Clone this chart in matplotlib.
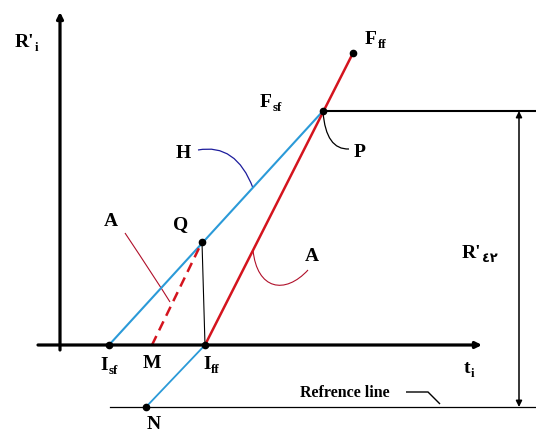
import matplotlib.pyplot as plt
from matplotlib.path import Path
from matplotlib.patches import PathPatch

plt.rcParams['font.family'] = ['Liberation Serif', 'DejaVu Sans']

# construction points (t_i along x, R'_i up), origin where the axes cross
Isf = (49, 0)
M = (92, 0)
Iff = (145, 0)
Q = (142, 103)
N = (86, -62)
P = (263, 234)
Fff = (293, 292)
ref_level = -62
dim_x = 459

BLUE = "#2b9ad8"
RED = "#d4141e"
DARK_RED = "#b0102a"
NAVY = "#1c1c9c"

fig = plt.figure(figsize=(5.36, 4.33), dpi=100)
ax = fig.add_axes([0, 0, 1, 1])
ax.set_xlim(-60, 476)
ax.set_ylim(-88, 345)
ax.axis('off')


def arrow(start, end, lw, both=False):
    style = '<|-|>' if both else '-|>'
    ax.annotate('', xy=end, xytext=start,
                arrowprops=dict(arrowstyle=style, lw=lw, color='k',
                                mutation_scale=9, shrinkA=0, shrinkB=0))


def label(x, y, main, sub=None, size=14):
    t = ax.text(x, y, main, fontsize=size, fontweight='bold',
                ha='left', va='baseline')
    if sub:
        ax.annotate(sub, xy=(1, 0), xycoords=t, xytext=(0.5, 0),
                    textcoords='offset points', fontsize=size * 0.66,
                    fontweight='bold', va='baseline')


def leader(verts, codes, color, lw=0.8):
    ax.add_patch(PathPatch(Path(verts, codes), fill=False,
                           edgecolor=color, lw=lw))


# axes
arrow((0, -5), (0, 333), 2.3)
arrow((-22, 0), (422, 0), 2.3)

# reference line and the R'42 dimension
ax.plot([50, 476], [ref_level, ref_level], color='k', lw=0.9)
ax.plot([P[0], 476], [P[1], P[1]], color='k', lw=1.5)
arrow((dim_x, P[1]), (dim_x, ref_level), 1.1, both=True)

# slow/fast lines
ax.plot([Isf[0], P[0]], [Isf[1], P[1]], color=BLUE, lw=1.5)
ax.plot([N[0], Iff[0]], [N[1], Iff[1]], color=BLUE, lw=1.3)
ax.plot([Iff[0], Fff[0]], [Iff[1], Fff[1]], color=RED, lw=1.8)
ax.plot([M[0], Q[0]], [M[1], Q[1]], color=RED, lw=1.8, ls=(0, (4, 2.5)))
ax.plot([Q[0], Iff[0]], [Q[1], Iff[1]], color='k', lw=0.8)

dots = [Isf, Iff, Q, N, P, Fff]
ax.plot([d[0] for d in dots], [d[1] for d in dots], 'o', color='k', ms=4.5)

# leaders
C3, C4, MV = Path.CURVE3, Path.CURVE4, Path.MOVETO
leader([(138, 195), (176, 202), (193, 157)], [MV, C3, C3], NAVY, 0.9)
leader([(65, 112), (97, 64), (110, 43)], [MV, C3, C3], DARK_RED)
leader([(193, 95), (197, 55), (225, 50), (248, 75)], [MV, C4, C4, C4], DARK_RED)
leader([(263, 233), (266, 195), (289, 196)], [MV, C3, C3], 'k', 0.9)
leader([(346, -47), (368, -47), (380, -59)], [MV, Path.LINETO, Path.LINETO], 'k', 1.0)

# labels
label(-45, 298, "R'", "i")
label(305, 301, "F", "ff")
label(200, 238, "F", "sf")
label(294, 188, "P")
label(116, 187, "H")
label(44, 119, "A")
label(113, 116, "Q")
label(245, 84, "A")
label(402, 87, "R'", "\u0664\u0662")
label(40, -25, "I", "sf")
label(83, -23, "M")
label(143, -24, "I", "ff")
label(87, -84, "N")
label(404, -28, "t", "i")
ax.text(240, -52, "Refrence line", fontsize=11.5, fontweight='bold',
        ha='left', va='baseline')

fig.savefig("out.png", dpi=100)
